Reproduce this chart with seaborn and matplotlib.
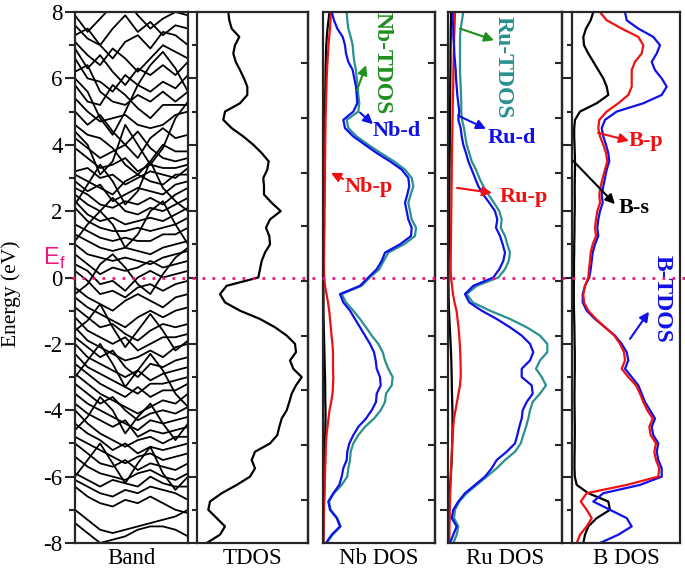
import numpy as np
import pandas as pd
import matplotlib
matplotlib.use('Agg')
import matplotlib.pyplot as plt
import matplotlib.transforms as mtransforms
from matplotlib.lines import Line2D
import seaborn as sns

# energy grid (eV), from top to bottom in 0.25 eV steps
energy = np.arange(8, -8.001, -0.25)
# k-points along the band path
k_path = np.linspace(0, 1, 10)

band_energies = [
    [7.9, 7.4, 7.8, 8.2, 8.4, 7.9, 7.5, 7.8, 8.0, 7.9],
    [7.6, 7.2, 7.0, 7.5, 7.9, 7.4, 7.7, 7.3, 7.6, 7.5],
    [7.3, 7.5, 7.0, 6.6, 7.1, 7.3, 6.9, 7.4, 7.3, 7.0],
    [7.1, 6.7, 6.4, 6.9, 6.6, 6.2, 6.6, 7.0, 6.8, 6.6],
    [6.9, 6.3, 6.7, 6.2, 5.8, 6.3, 6.1, 6.4, 6.1, 6.5],
    [6.6, 6.0, 5.9, 5.6, 6.1, 5.8, 5.6, 5.9, 5.7, 6.1],
    [6.2, 6.4, 5.6, 5.3, 5.2, 5.5, 5.3, 5.6, 5.3, 5.6],
    [6.0, 5.6, 4.8, 4.3, 5.0, 5.8, 6.4, 6.8, 6.3, 5.6],
    [5.8, 5.3, 5.2, 5.8, 5.5, 5.1, 4.8, 5.2, 5.2, 5.2],
    [5.4, 5.0, 4.7, 4.8, 4.9, 4.6, 4.5, 4.6, 4.9, 5.0],
    [5.0, 4.6, 4.9, 4.4, 4.0, 3.6, 4.2, 4.5, 4.2, 4.3],
    [4.6, 4.3, 4.2, 3.9, 3.4, 3.1, 3.5, 4.0, 3.8, 3.8],
    [4.4, 4.0, 3.1, 3.5, 4.6, 4.0, 3.4, 3.9, 4.8, 5.3],
    [4.2, 3.9, 3.6, 3.8, 4.0, 4.4, 3.9, 3.6, 3.5, 3.6],
    [3.9, 3.6, 3.3, 3.4, 3.6, 3.2, 3.4, 3.3, 3.3, 3.4],
    [3.2, 3.3, 3.0, 3.1, 2.8, 3.0, 3.2, 3.1, 3.0, 3.3],
    [3.1, 2.9, 2.7, 2.5, 2.9, 3.1, 2.9, 2.8, 3.1, 3.1],
    [2.9, 2.6, 2.8, 2.3, 2.5, 2.7, 2.6, 2.5, 2.8, 2.9],
    [2.7, 2.5, 2.2, 2.1, 2.3, 2.2, 2.4, 2.2, 2.5, 2.7],
    [2.2, 2.8, 3.4, 2.9, 2.2, 2.6, 3.5, 2.7, 2.3, 2.0],
    [2.5, 2.2, 2.0, 2.4, 2.0, 1.9, 2.1, 2.0, 2.2, 2.4],
    [2.3, 1.9, 1.7, 1.8, 1.6, 1.7, 1.8, 1.7, 1.9, 2.1],
    [2.1, 1.7, 1.5, 1.4, 1.4, 1.5, 1.4, 1.5, 1.6, 1.8],
    [1.1, 1.6, 2.0, 1.6, 0.9, 1.3, 2.0, 2.3, 1.6, 1.0],
    [1.6, 1.4, 1.2, 1.1, 1.2, 1.1, 1.1, 1.3, 1.3, 1.5],
    [1.3, 1.1, 0.9, 0.8, 0.9, 0.8, 0.7, 0.9, 1.0, 1.1],
    [1.0, 0.7, 0.6, 0.5, 0.6, 0.5, 0.4, 0.6, 0.7, 0.8],
    [0.7, 0.4, 0.1, 0.3, 0.2, 0.3, 0.5, 0.3, 0.4, 0.5],
    [0.4, 0.2, -0.2, -0.1, -0.4, 0.0, 0.2, 0.0, 0.1, 0.2],
    [0.2, -0.1, -0.5, -0.4, -0.6, -0.3, -0.2, -0.4, -0.2, -0.1],
    [-0.5, -0.2, 0.4, 0.7, 0.3, -0.2, -0.5, 0.1, 0.6, 0.9],
    [-0.3, -0.6, -0.8, -1.0, -0.7, -0.5, -0.7, -0.9, -0.6, -0.5],
    [-0.6, -0.9, -1.1, -1.3, -1.5, -1.2, -1.0, -1.2, -1.0, -0.9],
    [-0.9, -1.2, -1.5, -1.4, -1.7, -1.9, -1.6, -1.4, -1.5, -1.4],
    [-1.6, -1.3, -0.8, -1.5, -2.1, -1.6, -1.1, -1.6, -2.2, -1.9],
    [-1.2, -1.6, -1.8, -2.0, -1.8, -2.2, -2.0, -1.8, -1.8, -1.7],
    [-1.5, -1.9, -2.1, -2.3, -2.5, -2.4, -2.2, -2.4, -2.1, -2.0],
    [-1.8, -2.1, -2.4, -2.2, -2.7, -3.0, -2.6, -2.7, -2.5, -2.4],
    [-2.0, -2.4, -2.6, -2.8, -3.0, -2.8, -3.1, -2.9, -2.8, -2.7],
    [-3.0, -2.5, -2.0, -2.6, -3.3, -2.8, -2.3, -2.8, -3.5, -3.9],
    [-2.3, -2.7, -2.9, -3.1, -3.3, -3.5, -3.2, -3.2, -3.1, -3.0],
    [-2.6, -2.9, -3.2, -3.4, -3.6, -3.3, -3.6, -3.4, -3.4, -3.2],
    [-2.9, -3.2, -3.5, -3.7, -3.9, -4.1, -3.9, -3.7, -3.8, -3.5],
    [-3.2, -3.5, -3.8, -3.6, -4.0, -4.3, -4.1, -4.0, -4.1, -3.9],
    [-3.5, -3.8, -4.0, -4.2, -4.4, -4.6, -4.3, -4.4, -4.3, -4.2],
    [-4.6, -4.2, -3.6, -4.0, -4.7, -4.2, -3.8, -4.4, -4.9, -4.4],
    [-3.8, -4.1, -4.3, -4.5, -4.3, -4.8, -4.6, -4.7, -4.6, -4.5],
    [-4.0, -4.4, -4.7, -4.9, -5.1, -4.9, -4.8, -5.0, -4.8, -4.8],
    [-4.4, -4.7, -4.9, -5.2, -5.0, -5.3, -5.1, -5.2, -5.1, -5.0],
    [-4.8, -5.0, -5.2, -5.4, -5.6, -5.4, -5.3, -5.5, -5.4, -5.3],
    [-5.0, -5.3, -5.6, -5.7, -5.5, -5.8, -5.6, -5.7, -5.8, -5.6],
    [-6.0, -5.5, -5.0, -5.6, -6.2, -5.6, -5.1, -5.9, -6.4, -6.0],
    [-5.4, -5.7, -5.9, -6.0, -6.1, -5.9, -5.8, -6.0, -6.1, -5.9],
    [-5.9, -6.1, -6.3, -6.1, -6.2, -6.3, -6.0, -6.2, -6.3, -6.3],
    [-6.1, -6.3, -6.5, -6.6, -6.4, -6.5, -6.3, -6.4, -6.5, -6.7],
    [-6.3, -6.6, -6.8, -6.9, -6.7, -6.8, -6.6, -6.8, -7.0, -7.1],
    [-7.0, -7.3, -7.6, -7.7, -7.6, -7.5, -7.4, -7.3, -7.2, -7.0],
    [-7.4, -7.7, -8.0, -7.9, -7.8, -7.6, -7.5, -7.5, -7.6, -7.8],
]

tdos = [3.13, 3.23, 3.47, 4.23, 3.80, 3.63, 3.87, 4.30, 4.70, 5.03,
        5.03, 4.30, 2.80, 2.63, 3.47, 4.63, 5.63, 6.47, 7.17, 7.03,
        6.63, 6.70, 6.70, 7.47, 8.37, 7.30, 6.90, 7.23, 7.30, 6.80,
        6.47, 6.30, 6.13, 2.97, 2.30, 2.80, 4.30, 6.30, 7.80, 8.97,
        9.80, 9.90, 9.30, 9.63, 10.47, 9.90, 9.47, 9.23, 8.97, 8.47,
        8.23, 8.03, 7.30, 5.80, 5.47, 5.80, 5.30, 3.97, 2.47, 1.30,
        1.13, 1.97, 2.80, 2.30, 0.97]

nb_s = [0.65, 0.55, 0.45, 0.38, 0.33, 0.30, 0.28, 0.26, 0.25, 0.24,
        0.22, 0.22, 0.20, 0.18, 0.18, 0.17, 0.16, 0.15, 0.15, 0.14,
        0.13, 0.12, 0.12, 0.11, 0.10, 0.10, 0.09, 0.08, 0.08, 0.07,
        0.06, 0.05, 0.05, 0.04, 0.04, 0.05, 0.05, 0.06, 0.08, 0.10,
        0.12, 0.14, 0.16, 0.18, 0.20, 0.22, 0.22, 0.23, 0.25, 0.25,
        0.24, 0.22, 0.20, 0.18, 0.16, 0.15, 0.14, 0.13, 0.12, 0.10,
        0.08, 0.06, 0.05, 0.04, 0.03]
nb_p = [0.77, 0.75, 0.70, 0.62, 0.55, 0.50, 0.45, 0.40, 0.37, 0.35,
        0.32, 0.30, 0.28, 0.25, 0.25, 0.23, 0.22, 0.22, 0.20, 0.20,
        0.20, 0.18, 0.17, 0.17, 0.15, 0.15, 0.15, 0.13, 0.12, 0.12,
        0.10, 0.10, 0.12, 0.20, 0.35, 0.50, 0.62, 0.70, 0.78, 0.85,
        0.95, 1.00, 1.00, 1.00, 1.03, 1.00, 0.95, 0.82, 0.65, 0.55,
        0.45, 0.35, 0.30, 0.27, 0.25, 0.22, 0.20, 0.17, 0.15, 0.12,
        0.10, 0.08, 0.06, 0.05, 0.03]
nb_d = [0.87, 1.10, 1.43, 1.97, 2.20, 2.30, 2.53, 2.97, 3.13, 3.30,
        3.37, 3.43, 3.03, 2.03, 2.20, 3.03, 4.20, 5.37, 6.70, 7.87,
        8.53, 8.63, 8.43, 8.20, 8.37, 8.53, 8.87, 8.80, 7.70, 6.20,
        5.87, 5.37, 4.53, 3.70, 1.70, 2.03, 2.70, 3.20, 3.70, 4.20,
        4.70, 5.10, 5.27, 5.37, 5.70, 5.77, 5.37, 5.30, 4.87, 4.30,
        3.53, 3.03, 2.63, 2.43, 2.37, 2.03, 1.87, 1.63, 1.03, 0.53,
        0.70, 1.37, 1.70, 0.87, 0.30]
nb_tdos = [2.37, 2.43, 2.53, 2.77, 2.97, 3.03, 3.13, 3.30, 3.37, 3.47,
           3.53, 3.63, 3.53, 2.37, 2.53, 3.37, 4.53, 5.77, 7.10, 8.20,
           8.87, 9.03, 8.77, 8.53, 8.70, 8.87, 9.30, 9.20, 8.10, 6.53,
           6.07, 5.63, 4.67, 3.87, 1.87, 2.30, 3.03, 3.70, 4.30, 4.87,
           5.53, 5.97, 6.20, 6.53, 6.97, 6.87, 6.30, 6.20, 5.77, 5.10,
           4.20, 3.53, 3.03, 2.77, 2.70, 2.53, 2.43, 1.87, 1.10, 0.60,
           0.77, 1.43, 1.77, 0.97, 0.37]

ru_s = [0.30, 0.30, 0.28, 0.27, 0.26, 0.25, 0.25, 0.24, 0.23, 0.22,
        0.22, 0.21, 0.20, 0.20, 0.19, 0.18, 0.18, 0.17, 0.16, 0.15,
        0.15, 0.14, 0.13, 0.12, 0.12, 0.11, 0.10, 0.10, 0.09, 0.08,
        0.07, 0.06, 0.05, 0.05, 0.06, 0.08, 0.10, 0.14, 0.18, 0.22,
        0.26, 0.30, 0.33, 0.35, 0.37, 0.38, 0.40, 0.42, 0.44, 0.45,
        0.45, 0.44, 0.42, 0.40, 0.37, 0.33, 0.28, 0.22, 0.16, 0.12,
        0.09, 0.07, 0.05, 0.04, 0.03]
ru_p = [0.70, 0.68, 0.65, 0.62, 0.60, 0.58, 0.56, 0.54, 0.53, 0.52,
        0.50, 0.48, 0.47, 0.45, 0.44, 0.43, 0.42, 0.40, 0.39, 0.38,
        0.37, 0.36, 0.35, 0.34, 0.33, 0.32, 0.31, 0.30, 0.29, 0.28,
        0.27, 0.27, 0.30, 0.40, 0.50, 0.65, 0.85, 0.95, 1.05, 1.12,
        1.18, 1.22, 1.25, 1.27, 1.27, 1.20, 1.05, 0.90, 0.75, 0.60,
        0.52, 0.47, 0.42, 0.38, 0.35, 0.30, 0.27, 0.25, 0.22, 0.20,
        0.18, 0.17, 0.15, 0.14, 0.13]
ru_d = [0.47, 0.47, 0.53, 0.53, 0.60, 0.63, 0.70, 0.77, 0.80, 0.87,
        0.93, 1.03, 1.13, 1.03, 1.27, 1.37, 1.53, 1.80, 2.03, 2.37,
        2.70, 3.03, 3.53, 4.13, 4.70, 4.93, 4.80, 5.20, 5.47, 5.70,
        5.53, 5.13, 4.53, 2.53, 1.70, 2.13, 3.37, 4.87, 6.20, 7.37,
        8.20, 8.53, 8.20, 7.37, 7.37, 8.37, 8.47, 7.87, 7.47, 7.37,
        7.13, 6.93, 6.70, 5.87, 4.87, 4.37, 3.70, 2.70, 1.70, 1.03,
        0.53, 0.37, 0.87, 0.53, 0.20]
ru_tdos = [1.53, 1.40, 1.27, 1.20, 1.20, 1.20, 1.20, 1.20, 1.23, 1.27,
           1.30, 1.33, 1.33, 1.40, 1.60, 1.73, 1.87, 2.13, 2.37, 2.80,
           3.13, 3.53, 4.03, 4.60, 5.13, 5.37, 5.27, 5.70, 5.93, 6.20,
           6.07, 5.70, 5.03, 2.87, 1.87, 2.47, 4.20, 6.20, 7.87, 9.20,
           9.93, 9.93, 9.20, 8.80, 9.37, 9.80, 9.20, 8.47, 8.20, 8.03,
           7.80, 7.53, 7.27, 6.70, 5.70, 4.87, 3.87, 2.87, 1.87, 1.13,
           0.70, 0.60, 1.03, 0.87, 0.53]

b_s = [2.13, 1.87, 1.40, 1.13, 1.20, 1.63, 2.13, 2.63, 3.13, 3.47,
       3.63, 2.47, 0.80, 0.30, 0.22, 0.22, 0.25, 0.28, 0.30, 0.30,
       0.28, 0.27, 0.27, 0.28, 0.27, 0.25, 0.25, 0.24, 0.22, 0.22,
       0.20, 0.20, 0.20, 0.18, 0.18, 0.18, 0.20, 0.22, 0.24, 0.25,
       0.26, 0.28, 0.28, 0.28, 0.27, 0.26, 0.25, 0.25, 0.26, 0.27,
       0.28, 0.28, 0.27, 0.26, 0.25, 0.25, 0.28, 0.47, 1.63, 3.63,
       3.80, 2.47, 1.63, 1.30, 1.13]
b_p = [2.80, 3.47, 4.97, 6.63, 7.13, 6.97, 6.30, 5.97, 5.97, 5.97,
       5.63, 4.63, 3.47, 2.73, 2.63, 2.80, 3.13, 3.40, 3.53, 3.30,
       3.07, 2.87, 2.73, 2.80, 2.53, 2.40, 2.30, 2.40, 2.07, 1.87,
       1.80, 1.70, 1.63, 1.30, 1.13, 1.20, 1.63, 2.40, 3.30, 4.23,
       4.80, 5.20, 5.30, 4.97, 5.63, 6.40, 6.80, 7.13, 7.53, 8.07,
       7.73, 7.87, 8.40, 8.23, 8.40, 8.73, 8.63, 5.47, 1.47, 0.87,
       1.47, 1.97, 1.47, 0.80, 0.47]
b_tdos = [5.30, 5.47, 6.63, 8.13, 8.80, 8.47, 7.97, 8.30, 8.97, 9.47,
          8.97, 7.13, 4.47, 3.30, 2.97, 3.13, 3.40, 3.63, 3.73, 3.47,
          3.30, 3.13, 2.97, 3.07, 2.80, 2.63, 2.53, 2.63, 2.30, 2.07,
          1.97, 1.87, 1.73, 1.30, 1.07, 1.07, 1.47, 2.30, 3.30, 4.30,
          4.97, 5.47, 5.63, 5.30, 5.97, 6.63, 6.97, 7.30, 7.80, 8.30,
          7.97, 8.13, 8.63, 8.47, 8.63, 8.97, 8.97, 6.80, 3.13, 2.13,
          3.80, 5.47, 5.97, 4.63, 2.80]

panel_names = ['Band', 'TDOS', 'Nb DOS', 'Ru DOS', 'B DOS']
side_ticks = [6.45, 4.82, 3.15, 1.55, -0.1, -1.75, -3.4, -5.05, -6.7]

RED, BLUE, TEAL, GREEN, PINK = '#f01010', '#1010e8', '#2a9090', '#1f8f1f', '#e8197d'

sns.set_style('ticks')
plt.rcParams['font.family'] = ['Liberation Serif', 'DejaVu Serif']
plt.rcParams['axes.unicode_minus'] = False
plt.rcParams['axes.linewidth'] = 1.6
plt.rcParams['text.color'] = 'black'

W, H = 685, 572
TOP, BOTTOM = 12, 543
fig = plt.figure(figsize=(W / 100, H / 100), dpi=100)


def add_panel(left, right):
    ax = fig.add_axes([left / W, 1 - BOTTOM / H, (right - left) / W, (BOTTOM - TOP) / H])
    ax.set_xlim(0, (right - left) / 10)
    ax.set_ylim(-8, 8)
    return ax


ax_band = add_panel(75, 188)
ax_tdos = add_panel(197, 308)
ax_nb = add_panel(323, 435)
ax_ru = add_panel(448, 562)
ax_b = add_panel(572, 680)
axes = [ax_band, ax_tdos, ax_nb, ax_ru, ax_b]

# --- band structure ---
band_df = pd.DataFrame([(b, k, e) for b, row in enumerate(band_energies)
                        for k, e in zip(k_path, row)], columns=['band', 'k', 'energy'])
sns.lineplot(data=band_df, x='k', y='energy', units='band', estimator=None, sort=False,
             color='black', lw=1.3, ax=ax_band, legend=False)
ax_band.set_xlim(0, 1)
ax_band.set_ylim(-8, 8)


def dos_line(ax, values, color):
    sns.lineplot(x=values, y=energy, sort=False, estimator=None, color=color, lw=1.6, ax=ax)


dos_line(ax_tdos, tdos, 'black')
dos_line(ax_nb, nb_s, 'black')
dos_line(ax_nb, nb_p, RED)
dos_line(ax_nb, nb_tdos, TEAL)
dos_line(ax_nb, nb_d, BLUE)
dos_line(ax_ru, ru_s, 'black')
dos_line(ax_ru, ru_p, RED)
dos_line(ax_ru, ru_tdos, TEAL)
dos_line(ax_ru, ru_d, BLUE)
dos_line(ax_b, b_s, 'black')
dos_line(ax_b, b_tdos, BLUE)
dos_line(ax_b, b_p, RED)

for ax, name in zip(axes, panel_names):
    ax.set_xticks([])
    ax.set_ylabel('')
    ax.set_xlabel(name, fontsize=16.5, color='black', va='top')
    ax.xaxis.set_label_coords(0.5, -0.01)

# --- ticks ---
major = list(range(-8, 9, 2))
minor = list(range(-7, 8, 2))
for ax in (ax_band, ax_tdos, ax_b):
    ax.set_yticks(major)
    ax.set_yticks(minor, minor=True)
ax_band.tick_params(axis='y', which='major', direction='out', length=7, width=1.5,
                    labelsize=16.5, pad=2, right=False, labelcolor='black')
ax_band.tick_params(axis='y', which='minor', direction='out', length=4, width=1.5, right=False)
for ax in (ax_tdos, ax_b):
    ax.tick_params(axis='y', which='major', direction='out', length=6.5, width=1.5,
                   labelleft=False, right=False)
    ax.tick_params(axis='y', which='minor', direction='out', length=3.5, width=1.5, right=False)
ax_nb.set_yticks([])
ax_ru.set_yticks(list(range(-7, 8)))
ax_ru.tick_params(axis='y', direction='out', length=6, width=1.5, labelleft=False)
for ax in (ax_tdos, ax_nb, ax_ru):
    sec = ax.secondary_yaxis('right')
    sec.set_yticks(side_ticks)
    sec.set_yticklabels([])
    sec.tick_params(direction='in', length=5, width=1.5)

ax_band.set_ylabel('Energy (eV)', fontsize=15.5, color='black')
ax_band.yaxis.set_label_coords(-0.48, 0.47)

# --- annotations ---
def tag(ax, text, xy, color, rot=0, size=16):
    ax.text(xy[0], xy[1], text, color=color, fontsize=size, fontweight='bold',
            rotation=rot, ha='center', va='center')


def arrow(ax, tail, head, color):
    ax.annotate('', xy=head, xytext=tail,
                arrowprops=dict(arrowstyle='-|>', color=color, lw=1.5,
                                mutation_scale=14, shrinkA=0, shrinkB=0))


tag(ax_nb, 'Nb-TDOS', (5.9, 6.45), GREEN, rot=270, size=17)
arrow(ax_nb, (3.4, 5.64), (4.3, 6.4), GREEN)
tag(ax_nb, 'Nb-d', (7.4, 4.42), BLUE)
arrow(ax_nb, (3.7, 4.97), (5.0, 4.62), BLUE)
tag(ax_nb, 'Nb-p', (4.6, 2.73), RED)
arrow(ax_nb, (2.0, 2.97), (0.8, 3.15), RED)

tag(ax_ru, 'Ru-TDOS', (5.5, 6.33), TEAL, rot=270, size=17)
arrow(ax_ru, (1.2, 7.5), (4.6, 7.15), GREEN)
tag(ax_ru, 'Ru-d', (6.4, 4.2), BLUE)
arrow(ax_ru, (1.0, 4.88), (3.8, 4.48), BLUE)
tag(ax_ru, 'Ru-p', (7.6, 2.42), RED)
arrow(ax_ru, (0.9, 2.7), (4.4, 2.55), RED)

tag(ax_b, 'B-p', (7.4, 4.12), RED)
arrow(ax_b, (2.6, 4.36), (5.7, 4.12), RED)
tag(ax_b, 'B-s', (6.2, 2.09), 'black')
arrow(ax_b, (0.1, 3.52), (4.3, 2.21), 'black')
tag(ax_b, 'B-TDOS', (9.0, -0.64), BLUE, rot=270, size=17)
arrow(ax_b, (5.8, -1.85), (7.7, -1.03), BLUE)

# --- Fermi level ---
trans = mtransforms.blended_transform_factory(fig.transFigure, ax_band.transData)
fig.add_artist(Line2D([72 / W, 1.0], [0, 0], transform=trans, color=PINK, lw=2,
                      linestyle=(0, (1, 2.6))))
fig.text(43 / W, 1 - 265 / H, r'E$_\mathregular{f}$', color=PINK, fontsize=17,
         family='Liberation Sans', ha='left', va='baseline')

fig.savefig('out.png', dpi=100)
